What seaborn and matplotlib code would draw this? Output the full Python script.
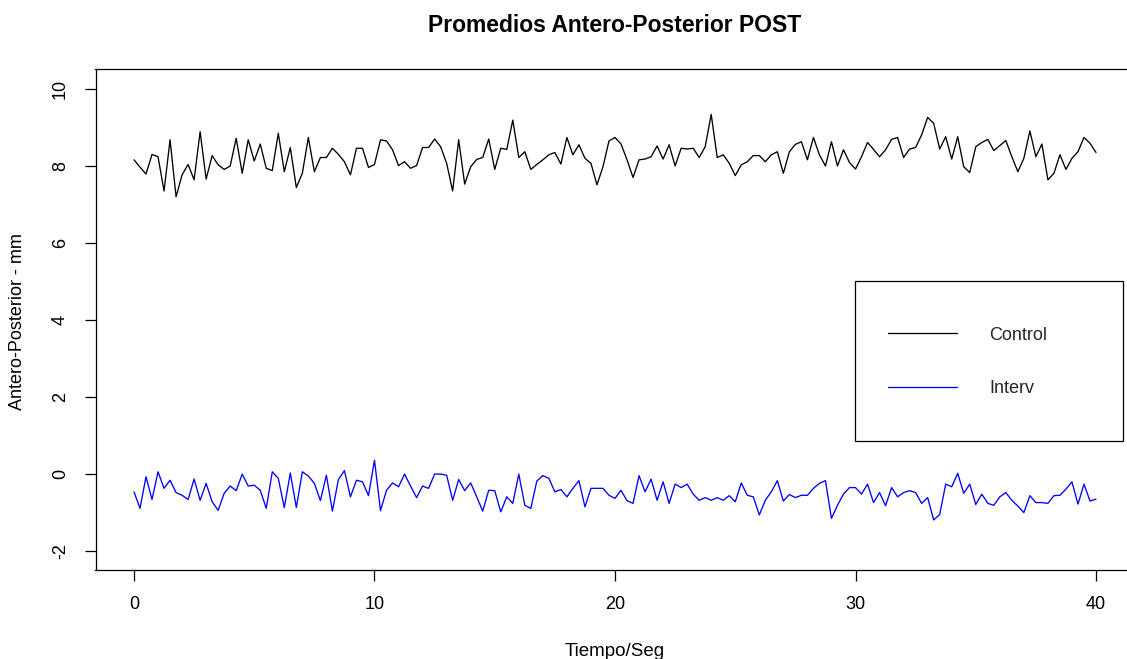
import numpy as np
import pandas as pd
import matplotlib
matplotlib.use("Agg")
import matplotlib.pyplot as plt
from matplotlib.lines import Line2D
from matplotlib.patches import Rectangle
import seaborn as sns

# ---------------- data ----------------
time_s = np.linspace(0, 40, 161)

control = [
    8.16, 7.97, 7.79, 8.30, 8.24, 7.35, 8.68, 7.20, 7.77, 8.04,
    7.64, 8.89, 7.66, 8.27, 8.03, 7.91, 8.00, 8.72, 7.81, 8.68,
    8.13, 8.57, 7.94, 7.88, 8.85, 7.85, 8.48, 7.44, 7.81, 8.74,
    7.85, 8.22, 8.22, 8.46, 8.30, 8.11, 7.77, 8.46, 8.46, 7.96,
    8.04,
    8.68, 8.65, 8.42, 8.01, 8.11, 7.94, 8.01, 8.48, 8.48, 8.70,
    8.50, 8.07, 7.35, 8.68, 7.53, 7.98, 8.17, 8.22, 8.70, 7.91,
    8.46, 8.43, 9.19, 8.22, 8.37, 7.91, 8.04, 8.16, 8.29, 8.35,
    8.05, 8.74, 8.29, 8.55, 8.20, 8.07, 7.51, 7.98, 8.65, 8.74,
    8.57, 8.16, 7.70, 8.16, 8.18, 8.24, 8.52, 8.18, 8.55, 8.00,
    8.46, 8.44, 8.46, 8.22, 8.50, 9.34, 8.22, 8.29, 8.07, 7.75,
    8.03, 8.11, 8.27, 8.27, 8.11, 8.29, 8.37, 7.81, 8.37, 8.56,
    8.63, 8.16, 8.74, 8.29, 8.00, 8.63, 8.00, 8.42, 8.09, 7.92,
    8.24, 8.61, 8.43, 8.24, 8.42, 8.69, 8.74, 8.22, 8.44, 8.48,
    8.81, 9.26, 9.11, 8.44, 8.76, 8.18, 8.76, 7.98, 7.83, 8.50,
    8.61, 8.69, 8.40, 8.53, 8.66, 8.24, 7.85, 8.20, 8.91, 8.24,
    8.57, 7.64, 7.81, 8.29, 7.91, 8.20, 8.37, 8.74, 8.59, 8.35,
]

interv = [
    -0.46, -0.89, -0.07, -0.66, 0.06, -0.37, -0.16, -0.48, -0.55, -0.66,
    -0.13, -0.68, -0.24, -0.72, -0.94, -0.50, -0.31, -0.43, 0.00, -0.31,
    -0.29, -0.42, -0.89, 0.06, -0.11, -0.87, 0.03, -0.87, 0.06, -0.05,
    -0.24, -0.69, -0.03, -0.96, -0.14, 0.09, -0.59, -0.16, -0.20, -0.56,
    0.36,
    -0.95, -0.42, -0.23, -0.33, 0.00, -0.31, -0.61, -0.31, -0.37, 0.00,
    0.00, -0.03, -0.68, -0.14, -0.43, -0.23, -0.59, -0.96, -0.42, -0.43,
    -0.98, -0.59, -0.76, 0.00, -0.81, -0.89, -0.18, -0.04, -0.11, -0.46,
    -0.40, -0.59, -0.37, -0.17, -0.85, -0.37, -0.37, -0.37, -0.55, -0.63,
    -0.42, -0.69, -0.76, -0.04, -0.46, -0.13, -0.68, -0.20, -0.76, -0.26,
    -0.35, -0.26, -0.52, -0.68, -0.61, -0.68, -0.61, -0.68, -0.56, -0.72,
    -0.23, -0.55, -0.59, -1.06, -0.68, -0.46, -0.17, -0.70, -0.53, -0.61,
    -0.55, -0.55, -0.37, -0.24, -0.17, -1.15, -0.81, -0.52, -0.35, -0.35,
    -0.52, -0.26, -0.74, -0.48, -0.82, -0.35, -0.59, -0.48, -0.43, -0.48,
    -0.76, -0.61, -1.19, -1.05, -0.26, -0.33, 0.02, -0.50, -0.26, -0.79,
    -0.52, -0.76, -0.81, -0.59, -0.48, -0.68, -0.83, -1.00, -0.56, -0.74,
    -0.74, -0.76, -0.56, -0.55, -0.39, -0.20, -0.78, -0.26, -0.70, -0.65,
]

series_names = ["Control", "Interv"]
series_colors = ["black", "blue"]
x_ticks = [0, 10, 20, 30, 40]
y_ticks = [-2, 0, 2, 4, 6, 8, 10]

title = "Promedios Antero-Posterior POST"
x_label = "Tiempo/Seg"
y_label = "Antero-Posterior - mm"

df = pd.DataFrame({
    "t": np.concatenate([time_s, time_s]),
    "v": control + interv,
    "grupo": [series_names[0]] * len(control) + [series_names[1]] * len(interv),
})

# ---------------- style ----------------
sns.set_theme(style="ticks")
plt.rcParams["font.family"] = ["Liberation Sans", "DejaVu Sans"]

W, H = 1127, 659
fig = plt.figure(figsize=(W / 100, H / 100), dpi=100)
L, R, T, B = 95.5, 1134.5, 69.3, 570.0
ax = fig.add_axes([L / W, 1 - B / H, (R - L) / W, (B - T) / H])

sns.lineplot(data=df, x="t", y="v", hue="grupo", palette=dict(zip(series_names, series_colors)),
             linewidth=0.95, legend=False, ax=ax, estimator=None, sort=False)

ax.set_xlim(-1.6, 41.6)
ax.set_ylim(-2.49, 10.51)
ax.set_xticks(x_ticks)
ax.set_yticks(y_ticks)
ax.set_xticklabels([str(v) for v in x_ticks])
ax.set_yticklabels([str(v) for v in y_ticks])

for sp in ax.spines.values():
    sp.set_visible(True)
    sp.set_color("black")
    sp.set_linewidth(0.9)

ax.tick_params(axis="both", direction="out", length=8, width=0.9, color="black",
               labelsize=13, labelcolor="black", pad=11)
for lbl in ax.get_yticklabels():
    lbl.set_rotation(90)
    lbl.set_va("center")
    lbl.set_ha("right")

ax.set_xlabel("")
ax.set_ylabel("")
fig.text(615 / W, 1 - 651 / H, x_label, ha="center", va="center", fontsize=13.5, color="black")
fig.text(18 / W, 1 - 322 / H, y_label, ha="center", va="center", rotation=90, fontsize=13, color="black")
fig.text(615 / W, 1 - 25 / H, title, ha="center", va="center", fontsize=16.5,
         fontweight="bold", color="black")

# legend box
fig.add_artist(Rectangle((855 / W, 1 - 440.7 / H), (1122.7 - 855) / W, (440.7 - 280.7) / H,
                         transform=fig.transFigure, fill=True, facecolor="white",
                         edgecolor="black", linewidth=0.9, zorder=5))
handles = [Line2D([], [], color=c, linewidth=0.95) for c in series_colors]
leg = fig.legend(handles, series_names, loc="center left",
                 bbox_to_anchor=(888 / W, 1 - 362 / H), bbox_transform=fig.transFigure,
                 frameon=False, borderpad=0, borderaxespad=0, fontsize=13,
                 handlelength=3.82, handletextpad=1.78, labelspacing=2.02)
leg.set_zorder(6)

fig.savefig("out.png", dpi=100)
